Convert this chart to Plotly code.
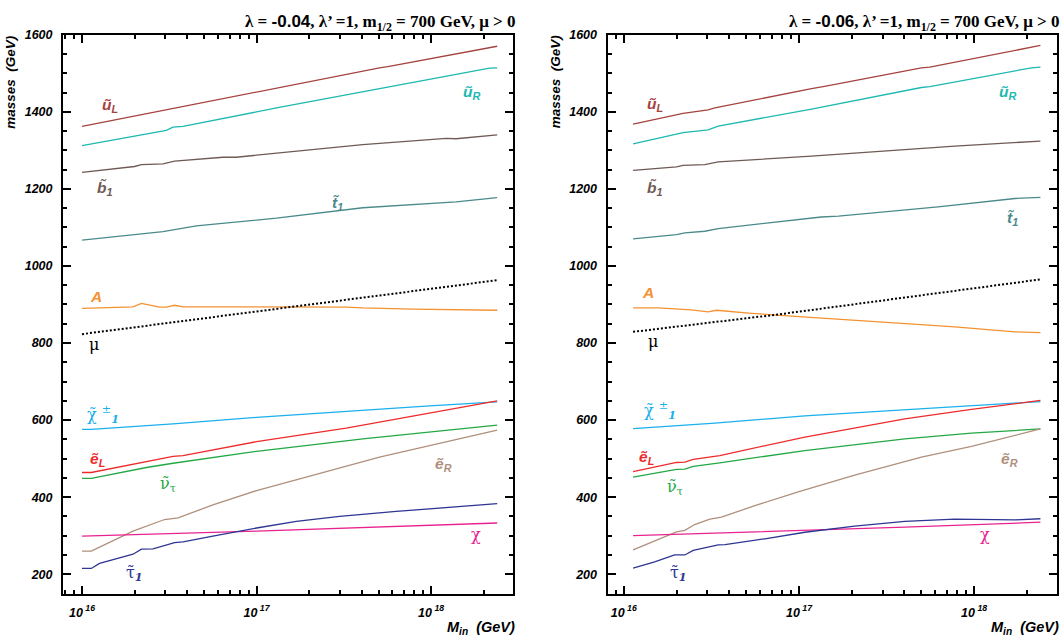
import numpy as np
import plotly.graph_objects as go

# ---------------- data: left panel (lambda = -0.04) ----------------
L_uL_x = [1.0e16, 3.04e16, 3.32e16, 1.0e17, 5.06e17, 5.65e17, 2.39e18]
L_uL_y = [1362, 1405, 1410, 1453, 1514, 1517, 1570]
L_uR_x = [1.0e16, 3.04e16, 3.32e16, 3.79e16, 1.30e17, 5.06e17, 5.65e17, 2.16e18, 2.39e18]
L_uR_y = [1312, 1352, 1360, 1362, 1410, 1459, 1463, 1513, 1514]
L_b1_x = [1.0e16, 2.0e16, 2.19e16, 2.91e16, 3.39e16, 6.42e16, 7.65e16, 4.06e17, 1.22e18, 1.39e18, 2.39e18]
L_b1_y = [1243, 1258, 1263, 1265, 1272, 1282, 1282, 1315, 1331, 1330, 1340]
L_t1_x = [1.0e16, 1.38e16, 2.91e16, 4.52e16, 1.30e17, 4.06e17, 1.22e18, 1.39e18, 2.39e18]
L_t1_y = [1067, 1074, 1089, 1104, 1124, 1151, 1166, 1166, 1177]
L_A_x = [1.0e16, 1.96e16, 2.19e16, 2.78e16, 3.04e16, 3.39e16, 3.79e16, 1.0e17, 3.26e17, 4.06e17, 7.85e17, 2.39e18]
L_A_y = [890, 894, 903, 893, 893, 898, 894, 894, 893, 891, 888, 885]
L_mu_x = [1.0e16, 1.55e17, 2.39e18]
L_mu_y = [823, 893, 963]
L_chipm_x = [1.0e16, 1.13e16, 3.32e16, 1.0e17, 9.8e17, 2.39e18]
L_chipm_y = [576, 576, 590, 607, 637, 647]
L_eL_x = [1.0e16, 1.13e16, 3.32e16, 3.79e16, 1.0e17, 3.26e17, 2.39e18]
L_eL_y = [464, 464, 506, 508, 544, 579, 650]
L_nu_x = [1.0e16, 1.13e16, 2.34e16, 3.32e16, 1.0e17, 4.06e17, 2.39e18]
L_nu_y = [449, 449, 477, 488, 519, 551, 587]
L_eR_x = [1.0e16, 1.13e16, 1.96e16, 2.97e16, 3.55e16, 5.62e16, 1.0e17, 2.10e17, 5.06e17, 9.8e17, 2.39e18]
L_eR_y = [260, 260, 312, 342, 346, 380, 417, 457, 504, 534, 574]
L_chi_x = [1.0e16, 2.91e16, 1.0e17, 2.39e18]
L_chi_y = [299, 305, 312, 333]
L_tau_x = [1.0e16, 1.13e16, 1.26e16, 1.96e16, 2.19e16, 2.55e16, 3.39e16, 3.79e16, 5.62e16, 1.0e17,
           1.69e17, 2.99e17, 6.31e17, 9.8e17, 2.39e18]
L_tau_y = [215, 215, 228, 252, 265, 266, 282, 284, 299, 320, 337, 350, 363, 370, 383]

# ---------------- data: right panel (lambda = -0.06) ----------------
R_uL_x = [1.13e16, 2.18e16, 3.03e16, 3.31e16, 1.18e17, 1.40e17, 5.00e17, 5.58e17, 2.39e18]
R_uL_y = [1368, 1396, 1405, 1410, 1460, 1466, 1514, 1516, 1572]
R_uR_x = [1.13e16, 2.18e16, 3.03e16, 3.46e16, 1.18e17, 5.00e17, 5.58e17, 2.12e18, 2.39e18]
R_uR_y = [1317, 1346, 1353, 1363, 1407, 1463, 1465, 1514, 1516]
R_b1_x = [1.13e16, 2.0e16, 2.18e16, 2.90e16, 3.46e16, 1.18e17, 7.76e17, 2.39e18]
R_b1_y = [1248, 1257, 1261, 1263, 1270, 1285, 1311, 1324]
R_t1_x = [1.13e16, 2.0e16, 2.23e16, 2.90e16, 3.46e16, 1.34e17, 1.68e17, 6.23e17, 1.71e18, 2.39e18]
R_t1_y = [1070, 1081, 1086, 1090, 1097, 1127, 1129, 1153, 1175, 1178]
R_A_x = [1.13e16, 1.57e16, 2.43e16, 3.03e16, 3.38e16, 5.36e16, 9.06e16, 1.53e17, 2.59e17, 6.23e17,
         7.76e17, 1.71e18, 2.39e18]
R_A_y = [891, 891, 886, 881, 885, 877, 870, 863, 857, 846, 842, 829, 827]
R_mu_x = [1.13e16, 7.28e16, 2.39e18]
R_mu_y = [829, 873, 965]
R_chipm_x = [1.13e16, 2.18e16, 3.31e16, 1.08e17, 6.23e17, 2.39e18]
R_chipm_y = [578, 586, 592, 611, 633, 648]
R_eL_x = [1.13e16, 2.0e16, 2.23e16, 2.49e16, 3.53e16, 1.08e17, 4.02e17, 9.66e17, 2.39e18]
R_eL_y = [466, 490, 491, 498, 508, 556, 603, 628, 651]
R_nu_x = [1.13e16, 2.0e16, 2.23e16, 2.49e16, 3.53e16, 1.08e17, 4.02e17, 9.66e17, 2.39e18]
R_nu_y = [452, 472, 473, 480, 489, 521, 551, 566, 577]
R_eR_x = [1.13e16, 2.0e16, 2.23e16, 2.54e16, 3.10e16, 3.61e16, 5.60e16, 9.9e16, 2.08e17, 5.00e17,
          9.66e17, 2.39e18]
R_eR_y = [263, 310, 314, 329, 343, 348, 378, 414, 457, 504, 532, 577]
R_chi_x = [1.13e16, 2.90e16, 1.08e17, 4.02e17, 2.39e18]
R_chi_y = [300, 306, 313, 322, 335]
R_tau_x = [1.13e16, 1.50e16, 1.95e16, 2.23e16, 2.49e16, 3.46e16, 3.78e16, 6.39e16, 1.08e17, 2.08e17,
           4.02e17, 7.76e17, 1.71e18, 2.39e18]
R_tau_y = [216, 232, 250, 250, 262, 276, 277, 292, 309, 325, 337, 343, 341, 344]

# label positions (M_in, mass) per panel
L_labels = {
    "uL": (1.45e16, 1415), "uR": (1.71e18, 1449), "b1": (1.35e16, 1200), "t1": (2.9e17, 1161),
    "A": (1.2e16, 920), "mu": (1.17e16, 797), "chipm": (1.32e16, 615), "eL": (1.23e16, 499),
    "nu": (3.1e16, 432), "eR": (1.17e18, 484), "chi": (1.8e18, 304), "tau": (2.0e16, 201),
}
R_labels = {
    "uL": (1.5e16, 1420), "uR": (1.55e18, 1451), "b1": (1.5e16, 1202), "t1": (1.66e18, 1123),
    "A": (1.38e16, 930), "mu": (1.47e16, 805), "chipm": (1.6e16, 625), "eL": (1.35e16, 504),
    "nu": (1.95e16, 425), "eR": (1.6e18, 499), "chi": (1.15e18, 304), "tau": (2.05e16, 201),
}

titles = ["<b>λ = <span style='font-family:Liberation Sans'>-0.04</span>, λ’ =1, m<sub>1/2</sub> = 700 GeV, μ > 0</b>",
          "<b>λ = <span style='font-family:Liberation Sans'>-0.06</span>, λ’ =1, m<sub>1/2</sub> = 700 GeV, μ > 0</b>"]

colors = {
    "uL": "#a5433f", "uR": "#1db9b1", "b1": "#6f5a55", "t1": "#4b8a8a", "A": "#f39231",
    "mu": "#000000", "chipm": "#1ab0ec", "eL": "#ee2b2b", "nu": "#24a845", "eR": "#b0907c",
    "chi": "#e8238f", "tau": "#2e3592",
}
label_text = {
    "uL": "<b><i>ũ<sub>L</sub></i></b>", "uR": "<b><i>ũ<sub>R</sub></i></b>",
    "b1": "<b><i>b̃<sub>1</sub></i></b>", "t1": "<b><i>t̃<sub>1</sub></i></b>",
    "A": "<b><i>A</i></b>", "mu": "μ", "chipm": "χ̃ <sup>±</sup><sub><b><i>1</i></b></sub>",
    "eL": "<b><i>ẽ<sub>L</sub></i></b>", "nu": "ν̃<sub>τ</sub>",
    "eR": "<b><i>ẽ<sub>R</sub></i></b>", "chi": "χ", "tau": "τ̃<sub><b><i>1</i></b></sub>",
}

left = {
    "uL": (L_uL_x, L_uL_y), "uR": (L_uR_x, L_uR_y), "b1": (L_b1_x, L_b1_y), "t1": (L_t1_x, L_t1_y),
    "A": (L_A_x, L_A_y), "mu": (L_mu_x, L_mu_y), "chipm": (L_chipm_x, L_chipm_y),
    "eL": (L_eL_x, L_eL_y), "nu": (L_nu_x, L_nu_y), "eR": (L_eR_x, L_eR_y),
    "chi": (L_chi_x, L_chi_y), "tau": (L_tau_x, L_tau_y),
}
right = {
    "uL": (R_uL_x, R_uL_y), "uR": (R_uR_x, R_uR_y), "b1": (R_b1_x, R_b1_y), "t1": (R_t1_x, R_t1_y),
    "A": (R_A_x, R_A_y), "mu": (R_mu_x, R_mu_y), "chipm": (R_chipm_x, R_chipm_y),
    "eL": (R_eL_x, R_eL_y), "nu": (R_nu_x, R_nu_y), "eR": (R_eR_x, R_eR_y),
    "chi": (R_chi_x, R_chi_y), "tau": (R_tau_x, R_tau_y),
}

W, H = 1063, 640
fig = go.Figure()

panels = [
    dict(data=left, labels=L_labels, xa="x", ya="y", dom=[63 / W, 513 / W], xr=[15.891, 18.469], frame_l=63, frame_r=513),
    dict(data=right, labels=R_labels, xa="x2", ya="y2", dom=[607.5 / W, 1057 / W], xr=[15.907, 18.473], frame_l=607.5, frame_r=1057),
]

ydom = [1 - 593 / H, 1 - 28 / H]
minor_x = [m * 10.0 ** e for e in (15, 16, 17, 18) for m in range(2, 10)]
minor_x = [v for v in minor_x if 8e15 <= v <= 3e18]

tickfont = dict(family="Liberation Sans", size=12.5, color="black", style="italic", weight="bold")

annotations = []
for i, p in enumerate(panels):
    for key, (xs, ys) in p["data"].items():
        line = dict(color=colors[key], width=1.3)
        if key == "mu":
            line = dict(color="black", width=2, dash="2px,2px")
        fig.add_trace(go.Scatter(x=xs, y=ys, mode="lines", line=line, xaxis=p["xa"], yaxis=p["ya"],
                                 showlegend=False, hoverinfo="skip"))
    for key, (lx, ly) in p["labels"].items():
        greek = key in ("mu", "chi", "nu", "chipm", "tau")
        annotations.append(dict(
            x=np.log10(lx), y=ly, xref=p["xa"], yref=p["ya"], text=label_text[key], showarrow=False,
            font=dict(family="Liberation Sans" if not greek else "DejaVu Serif",
                      size=15.5 if not greek else 16, color=colors[key]),
        ))
    # panel title
    annotations.append(dict(x=(p["frame_r"] + 4) / W, y=1 - 3 / H, xref="paper", yref="paper",
                            xanchor="right", yanchor="top", text=titles[i], showarrow=False,
                            font=dict(family="Liberation Serif", size=17, color="black")))
    # x title
    annotations.append(dict(x=(p["frame_r"] + 4) / W, y=1 - 639 / H, xref="paper", yref="paper",
                            xanchor="right", yanchor="bottom", text="<b><i>M<sub>in</sub>  (GeV)</i></b>",
                            showarrow=False, font=dict(family="Liberation Sans", size=14.5, color="black")))
    # y title
    annotations.append(dict(x=(p["frame_l"] - 52) / W, y=1 - 26 / H, xref="paper", yref="paper",
                            xanchor="center", yanchor="top", textangle=-90,
                            text="<b><i>masses  (GeV)</i></b>", showarrow=False,
                            font=dict(family="Liberation Sans", size=13.5, color="black")))

axis_common = dict(showline=True, linecolor="black", linewidth=2, mirror="ticks", ticks="inside",
                   tickcolor="black", tickwidth=1.5, showgrid=False, zeroline=False, tickfont=tickfont)

for i, p in enumerate(panels):
    sfx = "" if i == 0 else str(i + 1)
    fig.update_layout(**{
        "xaxis" + sfx: dict(axis_common, type="log", domain=p["dom"], range=p["xr"],
                            anchor="y" + sfx, ticklen=8,
                            tickvals=[1e16, 1e17, 1e18],
                            ticktext=["10<sup> 16</sup>", "10<sup> 17</sup>", "10<sup> 18</sup>"],
                            ticklabelstandoff=6,
                            minor=dict(tickvals=minor_x, ticks="inside", ticklen=4, tickwidth=1.5,
                                       tickcolor="black", showgrid=False)),
        "yaxis" + sfx: dict(axis_common, domain=ydom, range=[150, 1600], anchor="x" + sfx,
                            tickvals=[200, 400, 600, 800, 1000, 1200, 1400, 1600], ticklen=8,
                            ticklabelstandoff=6,
                            minor=dict(dtick=50, ticks="inside", ticklen=4, tickwidth=1.5,
                                       tickcolor="black", showgrid=False)),
    })

fig.update_layout(width=W, height=H, margin=dict(l=0, r=0, t=0, b=0), plot_bgcolor="white",
                  paper_bgcolor="white", annotations=annotations, showlegend=False)

fig.write_html("out.html", config={"displayModeBar": False},
               post_script="document.body.style.margin='0';document.body.style.overflow='hidden';")
